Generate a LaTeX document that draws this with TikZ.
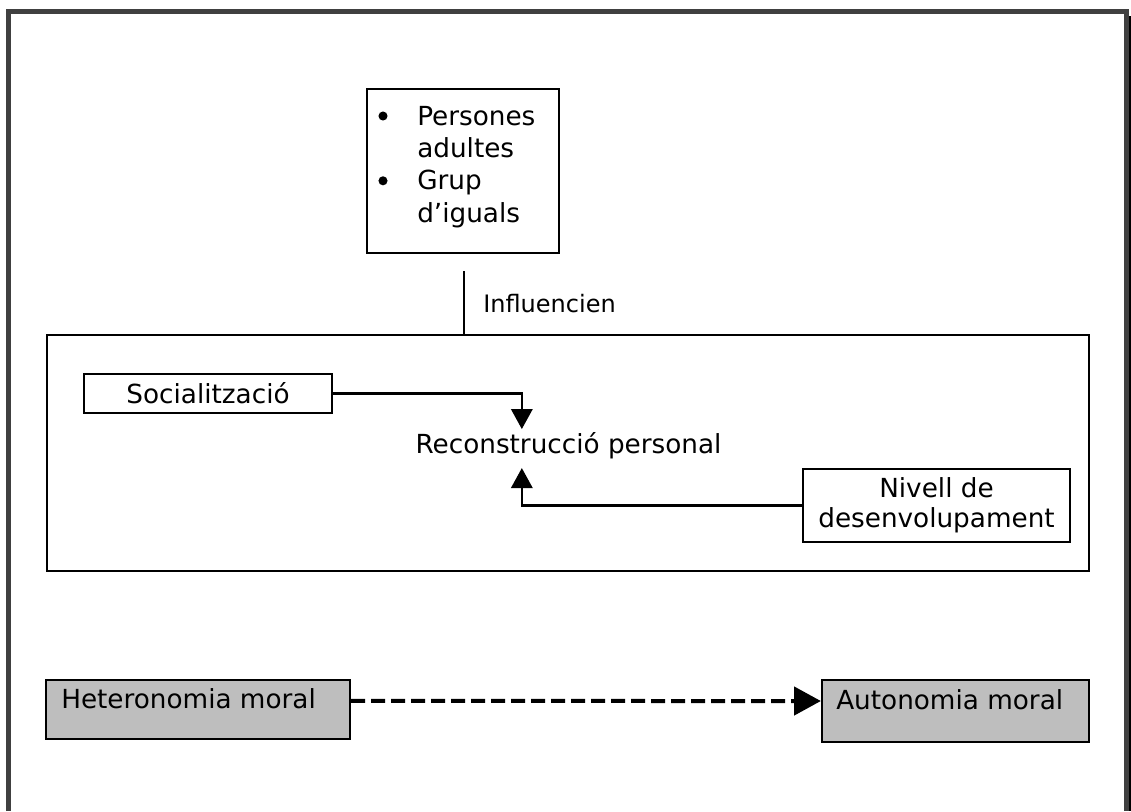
\documentclass[tikz,border=0pt]{standalone}
\usepackage{fontspec}
\setmainfont{DejaVu Sans}
\usetikzlibrary{arrows.meta}
\definecolor{boxgray}{HTML}{BEBEBE}
\definecolor{framegray}{HTML}{404040}
\newcommand\mainfs{\fontsize{19.7pt}{24.3pt}\selectfont}
\newcommand\nivfs{\fontsize{19.7pt}{22.5pt}\selectfont}
\newcommand\smallfs{\fontsize{18pt}{22pt}\selectfont}
\newcommand\bigbullet{\makebox[11.6pt]{\tikz[baseline=-6.75pt]\fill[black] (0pt,0pt) circle[radius=3.4pt];}}
\begin{document}
\begin{tikzpicture}[x=0.75pt,y=-0.75pt,
  box/.style={draw, line width=1.7pt, inner sep=0pt, font=\mainfs},
  graybox/.style={box, fill=boxgray},
  txt/.style={font=\mainfs, inner sep=0pt, text=black},
  arr/.style={line width=1.7pt, -{Triangle[length=15pt,width=16pt]}},
  dasharr/.style={line width=3pt, dash pattern=on 10.5pt off 4.5pt, -{Triangle[length=20pt,width=21pt]}},
]
\useasboundingbox (0,0) rectangle (1131,811);
% outer frame
\draw[framegray, line width=3.75pt] (8.5,811) -- (8.5,11.5) -- (1126,11.5) -- (1126,811);
\fill[black] (1129,16) rectangle (1131,811);

% top box
\node[box, minimum width=144pt, minimum height=123pt] (pers) at (463,171) {};
\node[txt, anchor=base west] (perstext) at (375,125)
  {\begin{tabular}[t]{@{}l@{\hspace{19.9pt}}l@{}}\bigbullet&Persones\\&adultes\\\bigbullet&Grup\\&d’iguals\end{tabular}};

% big box
\node[box, line width=2pt, minimum width=781.5pt, minimum height=177pt] (big) at (568,453) {};
\coordinate (inflTop) at (464,271);
\draw[line width=1.7pt] (inflTop) -- (inflTop |- big.north);
\node[font=\smallfs, inner sep=0pt, anchor=base west] (infl) at (483,312) {Influencien};

\node[box, minimum width=186pt, minimum height=29.25pt] (soc) at (208,393.5) {Socialització};
\node[txt, inner sep=2pt, anchor=base] (recon) at (568.5,453) {Reconstrucció personal};
\node[box, font=\nivfs, align=center, minimum width=200pt, minimum height=54.75pt] (niv) at (936.5,505.5) {Nivell de\\desenvolupament};

\draw[arr] (soc.east) -| ([xshift=-35pt]recon.north);
\draw[arr] (niv.west) -| ([xshift=-35pt,yshift=-5pt]recon.south);

% bottom
\node[graybox, minimum width=228pt, minimum height=44.25pt] (het) at (198,709.5) {};
\node[txt, anchor=base west] (hettext) at (61,708) {Heteronomia moral};
\node[graybox, minimum width=200.25pt, minimum height=46.5pt] (aut) at (955.5,711) {};
\node[txt, anchor=base west] (auttext) at (836,709) {Autonomia moral};
\draw[dasharr] ([yshift=6.4pt]het.east) -- ([yshift=7.5pt]aut.west);
\end{tikzpicture}
\end{document}
